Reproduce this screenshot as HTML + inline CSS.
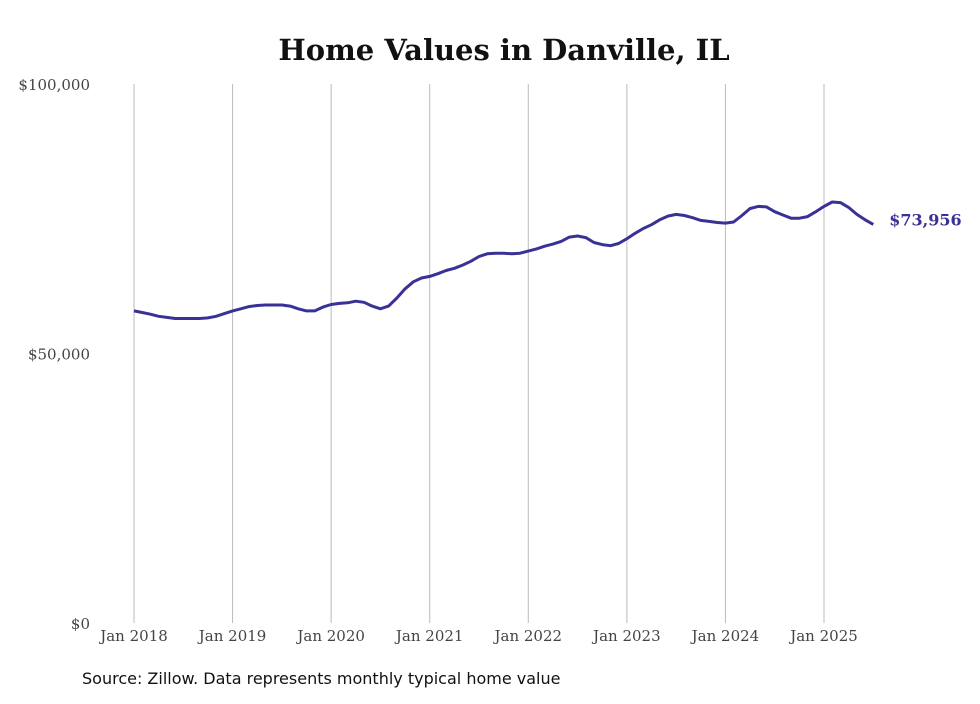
<!DOCTYPE html>
<html><head><meta charset="utf-8"><style>
body{margin:0;background:#fff}
svg text{font-family:"DejaVu Serif","Liberation Serif",serif}
</style></head><body>
<svg width="980" height="699">
<text x="504" y="60" text-anchor="middle" font-size="29" font-weight="bold" fill="#111">Home Values in Danville, IL</text>
<g id="grid"></g><g id="yt"></g><g id="xt"></g>
<path id="line" fill="none" stroke="#3a3196" stroke-width="3" stroke-linejoin="round"/>
<text id="endlbl" font-size="16" font-weight="bold" fill="#3a3196"></text>
<text x="82" y="684" font-size="16" fill="#111" style="font-family:'DejaVu Sans',sans-serif">Source: Zillow. Data represents monthly typical home value</text>
</svg>
<script>
const yTicks=[0,50000,100000];
const yTickLabels=["$0","$50,000","$100,000"];
const xYears=[2018,2019,2020,2021,2022,2023,2024,2025];
const xTickLabels=["Jan 2018","Jan 2019","Jan 2020","Jan 2021","Jan 2022","Jan 2023","Jan 2024","Jan 2025"];
const values=[57.9,57.6,57.3,56.9,56.7,56.5,56.5,56.5,56.5,56.6,56.9,57.4,
57.9,58.3,58.7,58.9,59.0,59.0,59.0,58.8,58.3,57.9,57.9,58.6,
59.1,59.3,59.4,59.7,59.5,58.8,58.3,58.8,60.3,62.0,63.3,64.0,
64.3,64.8,65.4,65.8,66.4,67.1,68.0,68.5,68.6,68.6,68.5,68.6,
69.0,69.4,69.9,70.3,70.8,71.6,71.8,71.5,70.6,70.2,70.0,70.4,
71.3,72.3,73.2,73.9,74.8,75.5,75.8,75.6,75.2,74.7,74.5,74.3,
74.2,74.4,75.6,76.9,77.3,77.2,76.3,75.7,75.1,75.1,75.4,76.3,
77.3,78.1,78.0,77.1,75.8,74.8,73.956];
const lastLabel="$73,956";
const ns="http://www.w3.org/2000/svg";
const x=m=>134+m*(690/84);
const y=v=>623-v*(539/100000);
function mk(t,a,p){const e=document.createElementNS(ns,t);for(const k in a)e.setAttribute(k,a[k]);p.appendChild(e);return e;}
const grid=document.getElementById('grid'),yt=document.getElementById('yt'),xt=document.getElementById('xt');
xYears.forEach((yr,i)=>{const px=x((yr-2018)*12);
const l=mk('line',{x1:px,x2:px,y1:84,y2:623,stroke:'#bbb','stroke-width':1},grid);


const t=mk('text',{x:px,y:641,'text-anchor':'middle','font-size':15,fill:'#444'},xt);t.textContent=xTickLabels[i];

});
yTicks.forEach((v,i)=>{const t=mk('text',{x:90,y:y(v)+6,'text-anchor':'end','font-size':15,fill:'#444'},yt);t.textContent=yTickLabels[i];

});
document.getElementById('line').setAttribute('d',values.map((v,i)=>(i?'L':'M')+x(i).toFixed(1)+','+y(v*1000).toFixed(1)).join(''));
const n=values.length-1,el=document.getElementById('endlbl');
el.setAttribute('x',x(n)+16);el.setAttribute('y',y(values[n]*1000)+1);el.textContent=lastLabel;
</script>
</body></html>
